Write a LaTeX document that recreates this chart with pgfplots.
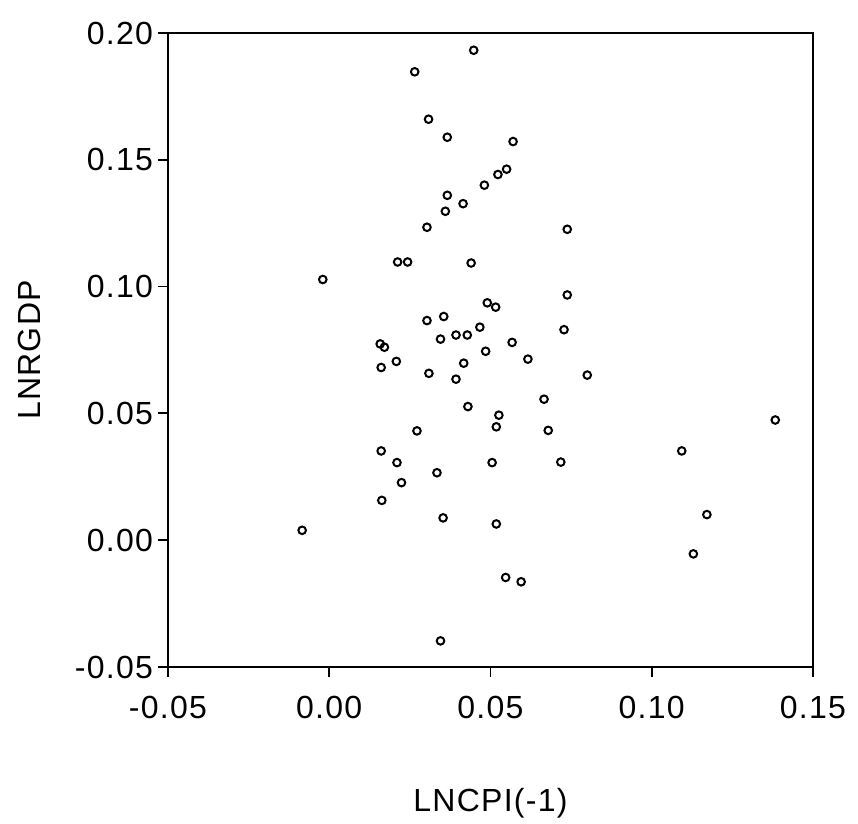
\documentclass[border=0pt]{standalone}
\usepackage{pgfplots}
\pgfplotsset{compat=1.18}
\usepackage{fontspec}
\setmainfont{Liberation Sans}[LetterSpace=4]
\begin{document}
\begin{tikzpicture}
\useasboundingbox (-84pt,-78.5pt) rectangle (345pt,333.5pt);
\begin{axis}[
  at={(0,0)}, anchor=south west,
  scale only axis,
  width=322.5pt, height=317pt,
  xmin=-0.05, xmax=0.15, ymin=-0.05, ymax=0.20,
  xtick={-0.05,0,0.05,0.10,0.15},
  ytick={-0.05,0,0.05,0.10,0.15,0.20},
  tick pos=left, tick align=outside,
  major tick length=5pt,
  axis line style={line width=1pt},
  every tick/.style={black, line width=0.9pt},
  /pgf/number format/assume math mode=true,
  /pgf/number format/fixed, /pgf/number format/fixed zerofill, /pgf/number format/precision=2,
  tick label style={font=\fontsize{16}{19}\selectfont},
  xticklabel style={yshift=-6pt},
  yticklabel style={xshift=1pt},
  label style={font=\fontsize{16}{19}\selectfont},
  xlabel={LNCPI(-1)},
  ylabel={LNRGDP},
  xlabel style={at={(axis description cs:0.5,-0.2145)}, anchor=center},
  ylabel style={at={(axis description cs:-0.214,0.5)}, anchor=center, rotate=0},
  clip=false,
]
\addplot[only marks, mark=o, mark size=1.9pt, mark options={line width=1pt, black}] table {
x y
0.0448 0.1932
0.0265 0.1847
0.0308 0.1660
0.0366 0.1589
0.0570 0.1572
0.0550 0.1463
0.0523 0.1442
0.0481 0.1400
0.0366 0.1360
0.0415 0.1327
0.0360 0.1297
0.0303 0.1234
0.0738 0.1226
0.0212 0.1097
0.0243 0.1097
0.0440 0.1093
-0.0020 0.1028
0.0738 0.0967
0.0490 0.0936
0.0516 0.0919
0.0355 0.0882
0.0303 0.0866
0.0467 0.0840
0.0728 0.0830
0.0393 0.0809
0.0428 0.0809
0.0345 0.0793
0.0567 0.0780
0.0158 0.0774
0.0171 0.0761
0.0485 0.0745
0.0616 0.0714
0.0208 0.0705
0.0417 0.0698
0.0161 0.0681
0.0309 0.0658
0.0800 0.0651
0.0393 0.0635
0.0666 0.0556
0.0430 0.0527
0.0526 0.0493
0.1383 0.0474
0.0518 0.0447
0.0679 0.0433
0.0272 0.0431
0.0161 0.0352
0.1093 0.0352
0.0210 0.0306
0.0505 0.0306
0.0718 0.0308
0.0334 0.0266
0.0224 0.0227
0.0163 0.0157
0.1171 0.0101
0.0353 0.0088
0.0518 0.0064
-0.0084 0.0039
0.1129 -0.0054
0.0547 -0.0147
0.0595 -0.0164
0.0345 -0.0397
};
\end{axis}
\end{tikzpicture}
\end{document}
